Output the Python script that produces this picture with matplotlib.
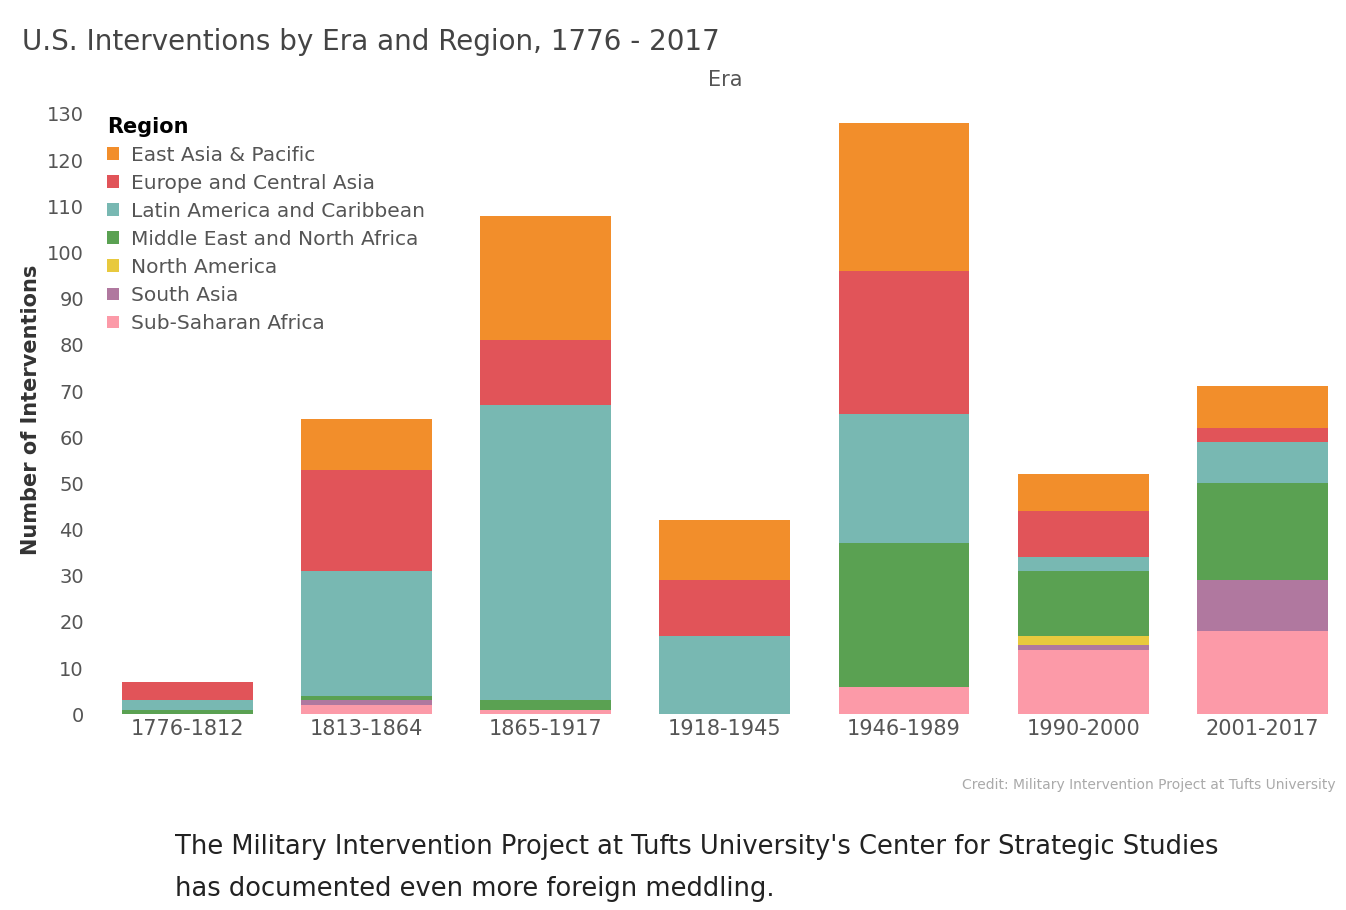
import numpy as np
import matplotlib.pyplot as plt

eras = ['1776-1812', '1813-1864', '1865-1917', '1918-1945', '1946-1989', '1990-2000', '2001-2017']

# stacked bottom to top
regions = {
    'Sub-Saharan Africa':           ([0, 2, 1, 0, 6, 14, 18], '#fc9aa8'),
    'South Asia':                   ([0, 1, 0, 0, 0, 1, 11], '#b0789f'),
    'North America':                ([0, 0, 0, 0, 0, 2, 0], '#e8c93e'),
    'Middle East and North Africa': ([1, 1, 2, 0, 31, 14, 21], '#5aa152'),
    'Latin America and Caribbean':  ([2, 27, 64, 17, 28, 3, 9], '#78b8b2'),
    'Europe and Central Asia':      ([4, 22, 14, 12, 31, 10, 3], '#e15459'),
    'East Asia & Pacific':          ([0, 11, 27, 13, 32, 8, 9], '#f28e2b'),
}

fig = plt.figure(figsize=(13.46, 9.10), dpi=100)
ax = fig.add_axes([0.066, 0.215, 0.945, 0.67])

x = np.arange(len(eras))
bottom = np.zeros(len(eras))
for name, (vals, col) in regions.items():
    ax.bar(x, vals, bottom=bottom, width=0.73, color=col, label=name)
    bottom += np.array(vals)

ax.set_xlim(-0.55, 6.55)
ax.set_ylim(0, 132)
ax.set_yticks(range(0, 131, 10))
ax.tick_params(length=0, labelsize=14, colors='#555555')
ax.set_xticks(x)
ax.set_xticklabels(eras, fontsize=15, color='#555555')
for s in ax.spines.values():
    s.set_visible(False)
ax.set_ylabel('Number of Interventions', fontsize=15, fontweight='bold', color='#333333')

h, l = ax.get_legend_handles_labels()
leg = ax.legend(h[::-1], l[::-1], title='Region', loc='upper left', bbox_to_anchor=(0.0, 1.01),
                frameon=False, fontsize=14.5, handlelength=0.6, handleheight=0.6,
                labelspacing=0.45, handletextpad=0.6, alignment='left')
leg.get_title().set_fontweight('bold')
leg.get_title().set_fontsize(15)
for t in leg.get_texts():
    t.set_color('#555555')

fig.text(0.016, 0.945, 'U.S. Interventions by Era and Region, 1776 - 2017', fontsize=20, color='#444444')
fig.text(0.539, 0.905, 'Era', fontsize=15, color='#555555', ha='center')
fig.text(0.992, 0.133, 'Credit: Military Intervention Project at Tufts University', fontsize=10,
         color='#aaaaaa', ha='right')
fig.text(0.13, 0.062, "The Military Intervention Project at Tufts University's Center for Strategic Studies",
         fontsize=18.5, color='#222222')
fig.text(0.13, 0.015, 'has documented even more foreign meddling.', fontsize=18.5, color='#222222')

fig.savefig('out.png', dpi=100)
